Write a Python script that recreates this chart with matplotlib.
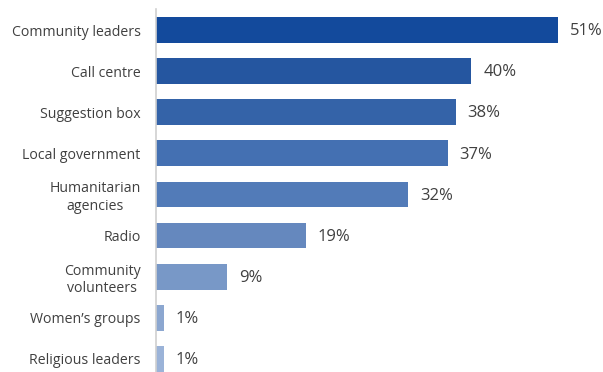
import numpy as np
import matplotlib
matplotlib.use('Agg')
import matplotlib.pyplot as plt

categories = ['Community leaders', 'Call centre', 'Suggestion box', 'Local government',
              'Humanitarian\nagencies', 'Radio', 'Community\nvolunteers',
              'Women\u2019s groups', 'Religious leaders']
values = [51, 40, 38, 37, 32, 19, 9, 1, 1]
colors = ['#134a9c', '#2556a0', '#3463a8', '#4470b2', '#527bb8',
          '#6588be', '#7898c7', '#8ca7d0', '#9bb3d8']


def main():
    plt.rcParams['font.family'] = ['Open Sans', 'DejaVu Sans']
    fig = plt.figure(figsize=(6.03, 3.72), dpi=100)
    ax = fig.add_axes([156 / 603, 0.0, 447 / 603, 362.5 / 372])

    y = np.arange(len(values))
    ax.barh(y, values, height=0.63, color=colors)
    ax.set_xlim(0, 56.7)
    ax.set_ylim(8.32, -0.5)

    for yi, v in zip(y, values):
        ax.text(v + 1.5, yi + 0.03, f'{v}%', va='center', ha='left',
                fontsize=12, color='#404040', clip_on=False)

    ax.set_yticks(y)
    ax.set_yticklabels(categories, fontsize=10.2, color='#404040',
                       linespacing=1.2, ha='right', multialignment='center')
    ax.tick_params(axis='y', length=0, pad=11)
    ax.set_xticks([])
    for side in ['top', 'right', 'bottom']:
        ax.spines[side].set_visible(False)
    ax.spines['left'].set_color('#d0d0d0')
    ax.spines['left'].set_linewidth(1.2)

    fig.savefig('out.png', dpi=100)


if __name__ == '__main__':
    main()
